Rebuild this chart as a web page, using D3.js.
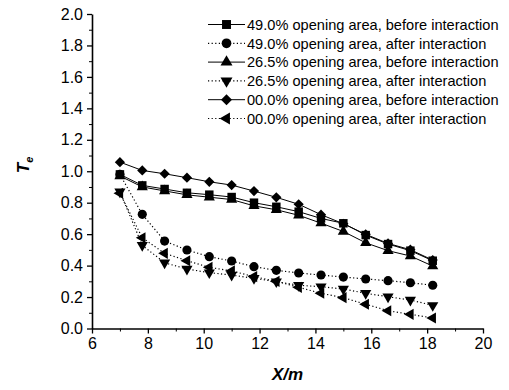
<!DOCTYPE html>
<html>
<head>
<meta charset="utf-8">
<script src="https://cdn.jsdelivr.net/npm/d3@7"></script>
<style>
  body { margin: 0; background: #fff; }
  svg { display: block; font-family: "Liberation Sans", Arial, sans-serif; }
  .axis path, .axis line { stroke: #000; }
  .axis text { font-size: 16px; fill: #000; }
</style>
</head>
<body>
<div id="chart"></div>
<script>
// distance along the channel (m)
var xValues = [7.0, 7.8, 8.6, 9.4, 10.2, 11.0, 11.8, 12.6, 13.4, 14.2, 15.0, 15.8, 16.6, 17.4, 18.2];

var open49Before = [0.98, 0.91, 0.887, 0.863, 0.851, 0.836, 0.80, 0.774, 0.743, 0.70, 0.669, 0.594, 0.537, 0.495, 0.431];
var open49After  = [0.98, 0.726, 0.556, 0.499, 0.457, 0.429, 0.393, 0.37, 0.353, 0.34, 0.327, 0.315, 0.304, 0.291, 0.275];
var open26Before = [0.97, 0.90, 0.875, 0.85, 0.835, 0.82, 0.78, 0.755, 0.72, 0.67, 0.617, 0.545, 0.495, 0.461, 0.397];
var open26After  = [0.87, 0.529, 0.418, 0.378, 0.355, 0.34, 0.319, 0.298, 0.275, 0.266, 0.251, 0.224, 0.202, 0.181, 0.147];
var open00Before = [1.058, 1.005, 0.984, 0.959, 0.933, 0.912, 0.874, 0.834, 0.79, 0.724, 0.666, 0.599, 0.541, 0.501, 0.435];
var open00After  = [0.86, 0.577, 0.478, 0.431, 0.389, 0.366, 0.33, 0.30, 0.262, 0.224, 0.196, 0.154, 0.113, 0.09, 0.067];

var legendLabels = [
    "49.0% opening area, before interaction",
    "49.0% opening area, after interaction",
    "26.5% opening area, before interaction",
    "26.5% opening area, after interaction",
    "00.0% opening area, before interaction",
    "00.0% opening area, after interaction"
];

var xTicks = [6, 8, 10, 12, 14, 16, 18, 20];
var yTicks = [0.0, 0.2, 0.4, 0.6, 0.8, 1.0, 1.2, 1.4, 1.6, 1.8, 2.0];

function init()
{
    var w = 509;
    var h = 390;
    var margin = { left: 92, right: 26, top: 14, bottom: 61.5 };

    var svg = d3.select("#chart")
        .append("svg")
        .attr("width", w)
        .attr("height", h);

    var xScale = d3.scaleLinear()
        .domain([6, 20])
        .range([margin.left, w - margin.right]);

    var yScale = d3.scaleLinear()
        .domain([0, 2])
        .range([h - margin.bottom, margin.top]);

    // marker shapes: square, circle, up, down, diamond, left
    var series = [
        { values: open49Before, shape: d3.symbolSquare,   size: 72, rotate: 0,   dotted: false },
        { values: open49After,  shape: d3.symbolCircle,   size: 66, rotate: 0,   dotted: true },
        { values: open26Before, shape: d3.symbolTriangle, size: 54, rotate: 0,   dotted: false },
        { values: open26After,  shape: d3.symbolTriangle, size: 54, rotate: 180, dotted: true },
        { values: open00Before, shape: d3.symbolSquare,   size: 52, rotate: 45,  dotted: false },
        { values: open00After,  shape: d3.symbolTriangle, size: 54, rotate: -90, dotted: true }
    ];
    series.forEach(function(s, i) { s.label = legendLabels[i]; });

    // minor ticks first, then major ticks with labels
    svg.append("g")
        .attr("class", "axis")
        .attr("transform", "translate(0," + yScale(0) + ")")
        .call(d3.axisBottom(xScale).tickValues(d3.range(7, 20, 2)).tickSize(3).tickFormat(""))
        .call(function(g) { g.select(".domain").remove(); });

    svg.append("g")
        .attr("class", "axis")
        .attr("transform", "translate(" + xScale(6) + ",0)")
        .call(d3.axisLeft(yScale).tickValues(d3.range(0.1, 2, 0.2)).tickSize(3).tickFormat(""))
        .call(function(g) { g.select(".domain").remove(); });

    var xAxis = svg.append("g")
        .attr("class", "axis")
        .attr("transform", "translate(0," + yScale(0) + ")")
        .call(d3.axisBottom(xScale).tickValues(xTicks).tickSize(5).tickSizeOuter(0).tickPadding(4).tickFormat(d3.format("d")));
    xAxis.select(".domain").attr("stroke-width", 1.6);
    xAxis.selectAll(".tick line").attr("stroke-width", 1.3);

    var yAxis = svg.append("g")
        .attr("class", "axis")
        .attr("transform", "translate(" + xScale(6) + ",0)")
        .call(d3.axisLeft(yScale).tickValues(yTicks).tickSize(5).tickSizeOuter(0).tickPadding(4).tickFormat(d3.format(".1f")));
    yAxis.select(".domain").attr("stroke-width", 1.6);
    yAxis.selectAll(".tick line").attr("stroke-width", 1.3);

    // axis titles
    svg.append("text")
        .attr("x", (xScale(6) + xScale(20)) / 2)
        .attr("y", 380)
        .attr("text-anchor", "middle")
        .attr("font-size", 17)
        .attr("font-weight", "bold")
        .attr("font-style", "italic")
        .text("X/m");

    var yTitle = svg.append("text")
        .attr("transform", "translate(29," + yScale(1.04) + ") rotate(-90)")
        .attr("text-anchor", "middle")
        .attr("font-size", 17)
        .attr("font-weight", "bold")
        .attr("font-style", "italic");
    yTitle.append("tspan").text("T");
    yTitle.append("tspan").attr("font-size", 11).attr("dy", 4).text("e");

    var line = d3.line()
        .x(function(d) { return xScale(d[0]); })
        .y(function(d) { return yScale(d[1]); });

    series.forEach(function(s) {
        var pts = xValues.map(function(x, i) { return [x, s.values[i]]; });

        svg.append("path")
            .datum(pts)
            .attr("fill", "none")
            .attr("stroke", "#000")
            .attr("stroke-width", s.dotted ? 1.2 : 1)
            .attr("stroke-dasharray", s.dotted ? "1.2,2.4" : null)
            .attr("d", line);

        svg.selectAll(null)
            .data(pts)
            .enter()
            .append("path")
            .attr("transform", function(d) {
                return "translate(" + xScale(d[0]) + "," + yScale(d[1]) + ") rotate(" + s.rotate + ")";
            })
            .attr("d", d3.symbol().type(s.shape).size(s.size))
            .attr("fill", "#000");
    });

    // legend
    var legend = svg.append("g").attr("transform", "translate(208,24.5)");
    series.forEach(function(s, i) {
        var row = legend.append("g").attr("transform", "translate(0," + (i * 18.8) + ")");
        row.append("line")
            .attr("x1", 0).attr("x2", 37)
            .attr("stroke", "#000")
            .attr("stroke-width", s.dotted ? 1.2 : 1)
            .attr("stroke-dasharray", s.dotted ? "1.2,2.4" : null);
        row.append("path")
            .attr("transform", "translate(18.5,0) rotate(" + s.rotate + ")")
            .attr("d", d3.symbol().type(s.shape).size(s.size + 8))
            .attr("fill", "#000");
        row.append("text")
            .attr("x", 39)
            .attr("y", 5.3)
            .attr("font-size", 14.6)
            .text(s.label);
    });
}

window.onload = init;
</script>
</body>
</html>
